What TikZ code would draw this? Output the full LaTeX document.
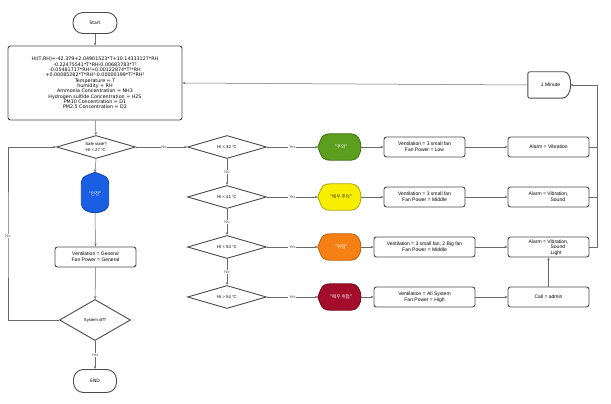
\documentclass[tikz,border=0pt]{standalone}
\usepackage{fontspec}
\setmainfont{Liberation Sans}
\newfontfamily\dv{DejaVu Sans}
\newfontfamily\kr{Noto Sans CJK KR}
\usetikzlibrary{shapes.geometric,arrows.meta,backgrounds,calc}
\definecolor{boxc}{HTML}{4A4A4A}
\definecolor{linec}{HTML}{6A6A6A}
\definecolor{labc}{HTML}{555555}
\definecolor{cgreen}{HTML}{5C9E1E}
\definecolor{cyellow}{HTML}{F7EE00}
\definecolor{corange}{HTML}{F58013}
\definecolor{cred}{HTML}{A30D2B}
\definecolor{cblue}{HTML}{1A5FE3}
\newcommand\hleaf[3]{%
 \begin{scope}[on background layer]
 \filldraw[fill=#2, draw=#3, line width=0.8pt] (#1.west) .. controls ([xshift=5pt]#1.north west) .. ([xshift=16pt]#1.north west) -- ([xshift=-13pt]#1.north east) .. controls (#1.north east) and (#1.south east) .. ([xshift=-13pt]#1.south east) -- ([xshift=16pt]#1.south west) .. controls ([xshift=5pt]#1.south west) .. (#1.west) -- cycle;
 \end{scope}}
\newcommand\vleaf[3]{%
 \begin{scope}[on background layer]
 \filldraw[fill=#2, draw=#3, line width=0.8pt] (#1.north) .. controls ([yshift=-5pt]#1.north east) .. ([yshift=-15pt]#1.north east) -- ([yshift=12pt]#1.south east) .. controls (#1.south east) and (#1.south west) .. ([yshift=12pt]#1.south west) -- ([yshift=-15pt]#1.north west) .. controls ([yshift=-5pt]#1.north west) .. (#1.north) -- cycle;
 \end{scope}}
\begin{document}
\begin{tikzpicture}[x=1pt,y=-1pt,
 box/.style={draw=boxc, line width=0.9pt, rounded corners=2.5pt, minimum height=20pt, inner sep=1pt, align=center, font=\fontsize{5}{6}\selectfont},
 term/.style={draw=boxc, line width=0.9pt, rounded corners=10pt, minimum width=44pt, minimum height=21pt, font=\dv\fontsize{4.5}{5}\selectfont},
 dia/.style={diamond, aspect=3.4, draw=boxc, line width=0.9pt, inner sep=0pt, minimum width=79pt, minimum height=23pt, align=center, font=\fontsize{4.2}{5.5}\selectfont},
 leaf/.style={minimum width=46pt, minimum height=26pt, inner sep=0pt, font=\kr\fontsize{4.6}{5.5}\selectfont},
 conn/.style={draw=linec, line width=0.5pt},
 arr/.style={conn, -{Stealth[length=3pt,width=2.4pt]}},
 lab/.style={fill=white, inner sep=0.8pt, font=\fontsize{4}{4}\selectfont, text=labc},
]
\useasboundingbox (0,0) rectangle (611,404);

% left column
\node[term] (start) at (95,23) {Start};
\node[box, minimum width=174pt, minimum height=74pt, font=\dv\fontsize{4.8}{5.3}\selectfont] (main) at (95,83) {%
HI(T,RH)=-42.379+2.04901523*T+10.14333127*RH\\
-0.22475541*T*RH-0.00683783*T²\\
-0.05481717*RH²+0.00122874*T²*RH\\
+0.00085282*T*RH²-0.00000199*T²*RH²\\
Temperature = T\\
humidity = RH\\
Ammonia Concentration = NH3\\
Hydrogen sulfide Concentration = H2S\\
PM10 Concentration = D1\\
PM2.5 Concentration = D2};
\node[dia] (safe) at (96,147) {Safe state?\\HI < 27 °C};
\node[minimum width=27pt, minimum height=43pt, inner sep=0pt, text=white, font=\kr\fontsize{4.6}{5.5}\selectfont] (blue) at (95,194) {"안전"};
\vleaf{blue}{cblue}{cblue!70!black}
\node[box, minimum width=81pt] (vg) at (95.5,257) {Ventilation = General\\Fan Power = General};
\node[dia, minimum width=71pt, minimum height=41pt] (sys) at (95,320) {System off?};
\node[term, minimum width=43pt, minimum height=23pt] (end) at (95,381) {END};

% decisions
\node[dia] (h1) at (227,147) {HI < 32 °C};
\node[dia] (h2) at (227,197) {HI < 41 °C};
\node[dia] (h3) at (227,247) {HI < 54 °C};
\node[dia] (h4) at (227,297) {HI > 54 °C};

% level shapes
\node[leaf, text=white] (g1) at (341,147) {"주의"};
\hleaf{g1}{cgreen}{cgreen!70!black}
\node[leaf, text=black!80] (g2) at (341,197) {"매우 주의"};
\hleaf{g2}{cyellow}{cyellow!70!black}
\node[leaf, text=white] (g3) at (341,247) {"위험"};
\hleaf{g3}{corange}{corange!75!black}
\node[leaf, text=white] (g4) at (341,297) {"매우 위험"};
\hleaf{g4}{cred}{cred!70!black}

% ventilation boxes
\node[box, minimum width=81pt] (v1) at (424.5,147) {Ventilation = 3 small fan\\Fan Power = Low};
\node[box, minimum width=81pt] (v2) at (424.5,197) {Ventilation = 3 small fan\\Fan Power = Middle};
\node[box, minimum width=101pt] (v3) at (424.5,247) {Ventilation = 3 small fan, 2 Big fan\\Fan Power = Middle};
\node[box, minimum width=101pt] (v4) at (424.5,297) {Ventilation = All System\\Fan Power = High};

% alarm boxes
\node[box, minimum width=81pt] (a1) at (548.5,147) {Alarm = Vibration};
\node[box, minimum width=81pt, align=left] (a2) at (548.5,197) {Alarm = Vibration,\\\hspace*{22pt}Sound};
\node[box, minimum width=81pt, align=left, font=\fontsize{5}{5.8}\selectfont, text depth=0pt] (a3) at (548.5,247) {Alarm = Vibration,\\\hspace*{22pt}Sound\\\hspace*{22pt}Light};
\node[box, minimum width=81pt] (call) at (548.5,297) {Call = admin};

% 1 minute delay
\node[minimum width=45pt, minimum height=26pt, inner sep=0pt, font=\fontsize{5}{6}\selectfont] (min) at (550.5,85) {1 Minute};
\begin{scope}[on background layer]
\draw[draw=boxc, line width=0.9pt, fill=white, rounded corners=2pt] (min.north west) -- ([xshift=-11pt]min.north east) [sharp corners] .. controls (min.north east) and (min.south east) .. ([xshift=-11pt]min.south east) [rounded corners=2pt] -- (min.south west) -- cycle;
\end{scope}

\coordinate (rc) at (597,85);
\coordinate (lc) at (8,236);

% connectors left
\draw[arr] (start) -- (main);
\draw[arr] (main) -- (safe);
\draw[arr] (safe.south) -- (blue.north);
\draw[arr] ([yshift=3pt]blue.south) -- (vg.north);
\draw[arr] (vg) -- (sys);
\draw[arr] (sys) -- node[lab]{Yes} (end);
\draw[arr] (sys.west) -| (lc) |- (safe.west);
\node[lab] at (lc) {No};
\draw[arr] (safe.east) -- node[lab, pos=0.55]{No} (h1.west);

% decision chain
\draw[arr] (h1) -- node[lab]{No} (h2);
\draw[arr] (h2) -- node[lab]{No} (h3);
\draw[arr] (h3) -- node[lab]{No} (h4);
\foreach \i in {1,2,3,4}{
 \draw[arr] (h\i.east) -- node[lab]{Yes} (g\i.west);
 \draw[arr] ([xshift=-3.2pt]g\i.east) -- (v\i.west);
}
\draw[arr] (v1) -- (a1);
\draw[arr] (v2) -- (a2);
\draw[arr] (v3) -- (a3);
\draw[arr] (v4) -- (call);
\draw[arr] (call) -- (a3);

% right return
\draw[conn] (a1.east) -- (a1.east -| rc);
\draw[conn] (a2.east) -- (a2.east -| rc);
\draw[arr] (a3.east) -| (rc) -- ([xshift=-2.7pt]min.east);
\draw[arr] (min.west) -- (main.east);
\end{tikzpicture}
\end{document}
